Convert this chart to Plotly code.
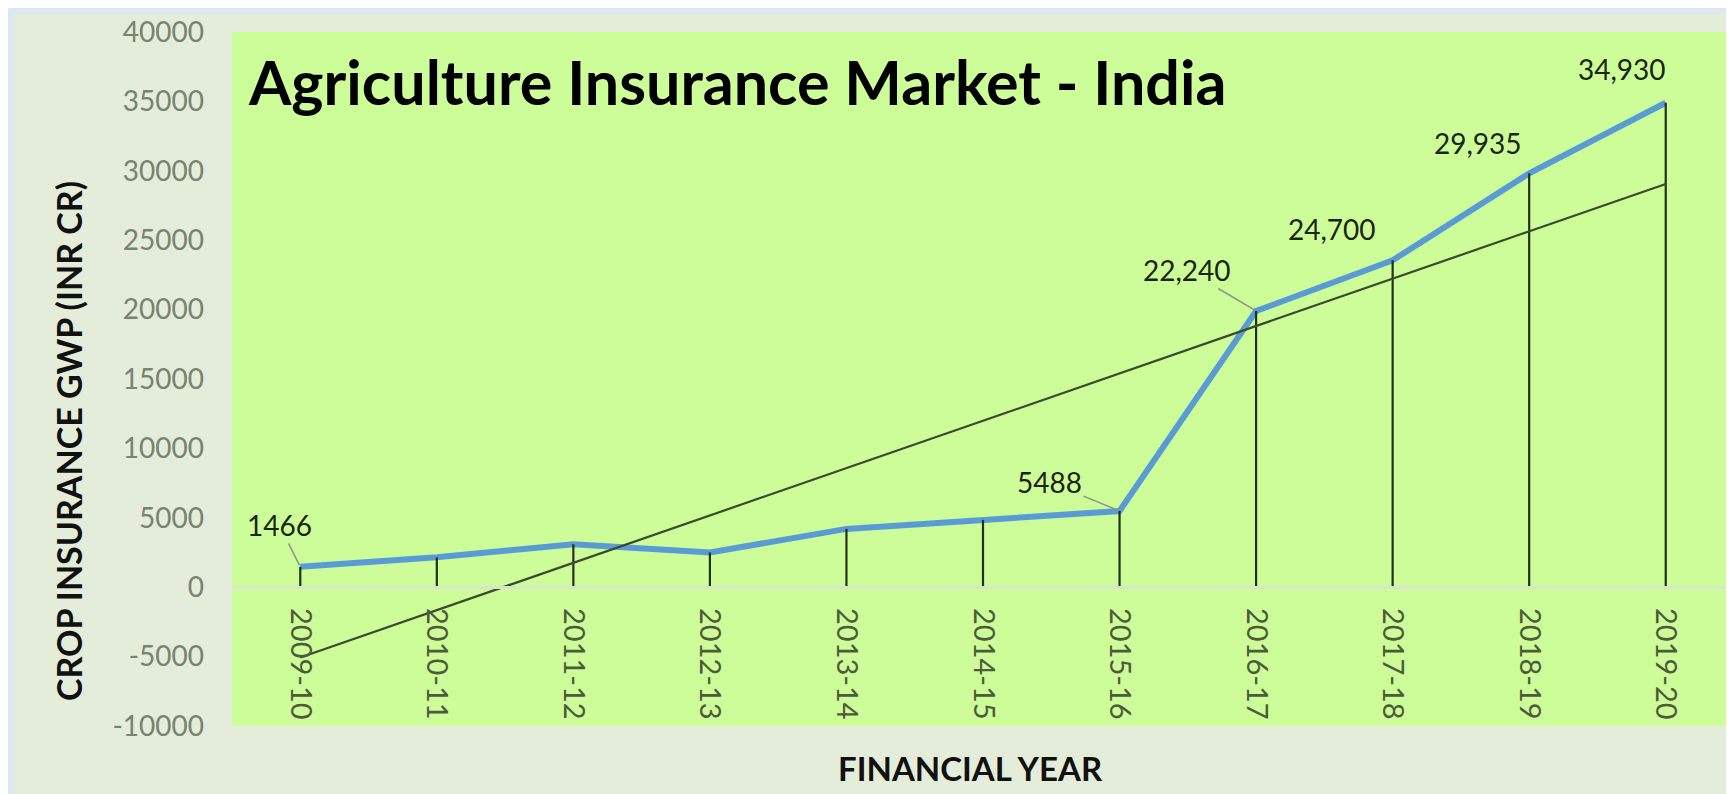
import numpy as np
import plotly.graph_objects as go

# ---- data ----
years = ["2009-10", "2010-11", "2011-12", "2012-13", "2013-14", "2014-15",
         "2015-16", "2016-17", "2017-18", "2018-19", "2019-20"]
gwp = [1466, 2150, 3100, 2500, 4200, 4850, 5488, 19900, 23550, 29820, 34900]
label_years = ["2009-10", "2015-16", "2016-17", "2017-18", "2018-19", "2019-20"]
label_texts = ["1466", "5488", "22,240", "24,700", "29,935", "34,930"]
y_ticks = [-10000, -5000, 0, 5000, 10000, 15000, 20000, 25000, 30000, 35000, 40000]

# linear trendline (least squares over category index)
idx = np.arange(len(years))
slope, intercept = np.polyfit(idx, gwp, 1)
trend = list(slope * idx + intercept)

W, H = 1734, 794
ML, MR, MT, MB = 224, 8, 24, 76
PW, PH = W - ML - MR, H - MT - MB

def px_x(p):  # figure pixel -> paper x
    return (p - ML) / PW

def px_y(p):  # figure pixel -> paper y
    return (H - MB - p) / PH

FONT = "Lato"

fig = go.Figure()

# blue series line
fig.add_trace(go.Scatter(
    x=years, y=gwp, mode="lines",
    line=dict(color="#5b9bd5", width=6),
    hoverinfo="x+y", showlegend=False))

# drop lines from each point down to 0
fig.add_trace(go.Scatter(
    x=years, y=gwp, mode="markers",
    marker=dict(size=1, opacity=0),
    error_y=dict(type="data", symmetric=False,
                 array=[0] * len(gwp), arrayminus=gwp,
                 color="#23301a", thickness=2.2, width=0),
    hoverinfo="skip", showlegend=False))

# trendline
fig.add_trace(go.Scatter(
    x=years, y=trend, mode="lines",
    line=dict(color="#3b4a2c", width=2.2),
    hoverinfo="skip", showlegend=False))

# data labels (pixel offsets of label centre from the point)
offsets = {
    "2009-10": (-21, -42, True),
    "2015-16": (-70, -29, True),
    "2016-17": (-69, -41, True),
    "2017-18": (-61, -31, False),
    "2018-19": (-51, -30, False),
    "2019-20": (-44, -34, False),
}
for yr, txt in zip(label_years, label_texts):
    val = gwp[years.index(yr)]
    ax, ay, arrow = offsets[yr]
    if arrow:
        fig.add_annotation(
            x=yr, y=val, text=txt, showarrow=True,
            ax=ax, ay=ay, axref="pixel", ayref="pixel",
            arrowhead=0, arrowwidth=1.5, arrowcolor="#8c9488",
            standoff=2, startstandoff=0,
            font=dict(family=FONT, size=28, color="#1c2414"))
    else:
        fig.add_annotation(
            x=yr, y=val, text=txt, showarrow=False,
            xshift=ax, yshift=-ay,
            font=dict(family=FONT, size=28, color="#1c2414"))

# axis titles as annotations
fig.add_annotation(
    xref="paper", yref="paper", x=px_x(60), y=px_y(433),
    text="<b>CROP INSURANCE GWP (INR CR)</b>", textangle=-90,
    showarrow=False, xanchor="center", yanchor="middle",
    font=dict(family=FONT, size=34, color="#111111"))
fig.add_annotation(
    xref="paper", yref="paper", x=px_x(962), y=px_y(760),
    text="<b>FINANCIAL YEAR</b>",
    showarrow=False, xanchor="center", yanchor="middle",
    font=dict(family=FONT, size=33, color="#111111"))

# outer light border
fig.add_shape(type="rect", xref="paper", yref="paper",
              x0=px_x(3), x1=px_x(W - 3), y0=px_y(H - 2), y1=px_y(3),
              line=dict(color="#dde6f1", width=6), fillcolor="rgba(0,0,0,0)",
              layer="below")

fig.update_layout(
    width=W, height=H,
    margin=dict(l=ML, r=MR, t=MT, b=MB, autoexpand=False),
    paper_bgcolor="#e3edd9",
    plot_bgcolor="#cdfd99",
    title=dict(text="<b>Agriculture Insurance Market - India</b>",
               xref="paper", x=px_x(241), xanchor="left",
               yref="container", y=1 - 76 / H, yanchor="middle",
               font=dict(family=FONT, size=61, color="#000000")),
    xaxis=dict(
        type="category", categoryorder="array", categoryarray=years,
        anchor="free", position=0.2,
        showgrid=False, zeroline=False,
        showline=True, linecolor="#d8e4cc", linewidth=3,
        ticks="", tickangle=90, ticklabelstandoff=13,
        tickfont=dict(family=FONT, size=29, color="#4f5a3a"),
        automargin=False, range=[-0.5, len(years) - 0.5]),
    yaxis=dict(
        range=[-10000, 40000], tickvals=y_ticks,
        ticktext=[str(v) for v in y_ticks],
        showgrid=False, zeroline=False, showline=False,
        ticks="", ticklabelstandoff=27,
        tickfont=dict(family=FONT, size=28, color="#7a8270"),
        automargin=False),
    showlegend=False,
)

fig.write_html("out.html")
